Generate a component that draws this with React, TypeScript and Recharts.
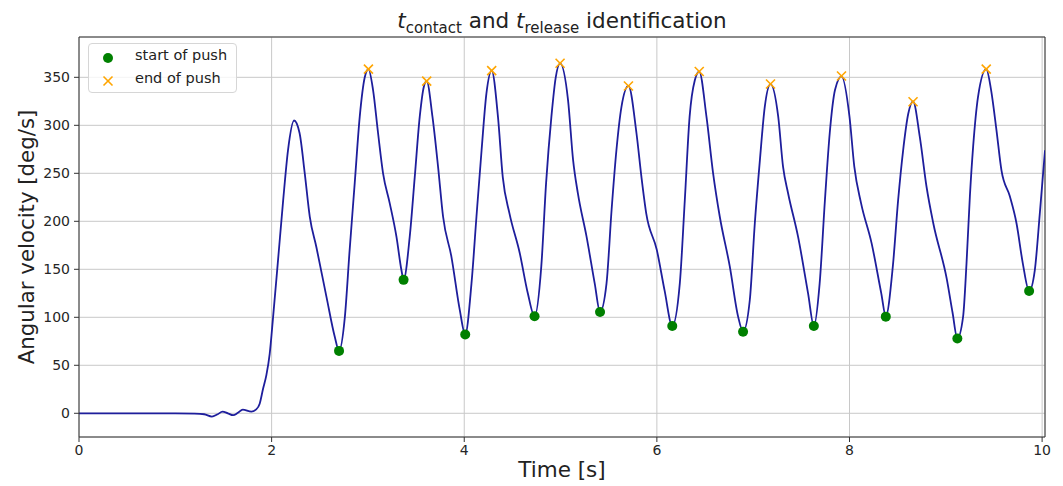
import React from 'react';
import {
  ComposedChart,
  Line,
  Scatter,
  XAxis,
  YAxis,
  CartesianGrid,
  ReferenceLine,
  Label,
} from 'recharts';

// angular velocity trace [t (s), deg/s]
const traceT = [
  0, 0.5, 1.0, 1.2, 1.3, 1.38, 1.44, 1.49, 1.545, 1.6, 1.65, 1.7, 1.79, 1.84, 1.876, 1.91, 1.946, 1.98,
  2.015, 2.067, 2.12, 2.17, 2.233, 2.29, 2.344, 2.396, 2.465, 2.57, 2.655, 2.7, 2.76, 2.81, 2.863, 2.915,
  2.967, 3.005, 3.053, 3.105, 3.157, 3.226, 3.296, 3.348, 3.37, 3.434, 3.486, 3.538, 3.58, 3.61, 3.67,
  3.728, 3.78, 3.867, 3.953, 4.01, 4.075, 4.127, 4.18, 4.23, 4.285, 4.35, 4.4, 4.47, 4.576, 4.66, 4.73,
  4.8, 4.85, 4.905, 4.95, 4.995, 5.078, 5.13, 5.18, 5.27, 5.355, 5.41, 5.477, 5.53, 5.58, 5.632, 5.705,
  5.788, 5.84, 5.89, 6.0, 6.08, 6.16, 6.238, 6.29, 6.34, 6.394, 6.44, 6.515, 6.584, 6.653, 6.757, 6.843,
  6.895, 6.965, 7.017, 7.07, 7.12, 7.18, 7.26, 7.31, 7.363, 7.466, 7.57, 7.63, 7.69, 7.745, 7.795, 7.85,
  7.917, 8.0, 8.05, 8.12, 8.23, 8.33, 8.377, 8.45, 8.505, 8.557, 8.61, 8.66, 8.73, 8.8, 8.87, 9.01, 9.07,
  9.12, 9.18, 9.215, 9.25, 9.284, 9.335, 9.42, 9.47, 9.526, 9.578, 9.665, 9.734, 9.8, 9.865, 9.924, 9.976,
  10.03,
];
const traceV = [
  0, 0, 0, -0.3, -1, -3.5, -1, 1.7, 0, -2, 0.5, 3.8, 1.7, 4, 10, 25, 40, 62,
  100, 160, 222, 274, 305, 292, 250, 205, 173, 121, 80, 65, 100, 170, 240, 309,
  350, 358.6, 337, 292, 250, 219, 184, 149, 139, 184, 246, 309, 340, 346, 309,
  257, 205, 163, 108, 82, 135, 205, 274, 333, 357, 309, 246, 208, 167, 125, 101,
  153, 240, 309, 350, 364.6, 326, 264, 229, 184, 135, 105.5, 135, 212, 274, 319, 341,
  292, 246, 208, 170, 128, 91, 135, 222, 309, 347, 356, 309, 250, 205, 153, 101,
  85, 118, 198, 264, 319, 343, 309, 257, 229, 184, 125, 91, 135, 222, 292, 337,
  351, 309, 257, 219, 177, 125, 101, 153, 222, 274, 312, 325, 288, 236, 198, 140, 105,
  78, 101, 156, 226, 278, 330, 358.6, 337, 295, 253, 226, 198, 156, 127.4, 149, 208,
  274,
];

// start of push (green dots)
const startT = [2.7, 3.37, 4.01, 4.73, 5.41, 6.16, 6.895, 7.63, 8.377, 9.12, 9.865];
const startV = [65, 139, 82, 101, 105.5, 91, 85, 91, 100.7, 78, 127.4];

// end of push (orange crosses)
const endT = [3.005, 3.61, 4.285, 4.995, 5.705, 6.44, 7.18, 7.917, 8.66, 9.42];
const endV = [358.6, 346, 357, 364.6, 341, 356, 343, 351.4, 324.6, 358.6];

const xTicks = [0, 2, 4, 6, 8, 10];
const yTicks = [0, 50, 100, 150, 200, 250, 300, 350];

const trace = traceT.map((t, i) => ({ t, v: traceV[i] }));
const starts = startT.map((t, i) => ({ t, v: startV[i] }));
const ends = endT.map((t, i) => ({ t, v: endV[i] }));

const FONT = '"DejaVu Sans", sans-serif';
const X_MAX = 10.03;
const Y_MIN = -24.7;
const Y_MAX = 392;

const Dot = (props: any) => <circle cx={props.cx} cy={props.cy} r={5} fill="#008000" />;

const Cross = (props: any) => {
  const { cx, cy } = props;
  const s = 4.5;
  return (
    <g stroke="#ffa500" strokeWidth={1.6}>
      <line x1={cx - s} y1={cy - s} x2={cx + s} y2={cy + s} />
      <line x1={cx - s} y1={cy + s} x2={cx + s} y2={cy - s} />
    </g>
  );
};

function ChartLegend() {
  return (
    <div
      style={{
        position: 'absolute',
        left: 88,
        top: 43,
        width: 149,
        height: 50,
        border: '1px solid #d6d6d6',
        borderRadius: 4,
        background: 'rgba(255,255,255,0.8)',
        fontFamily: FONT,
        fontSize: 14.5,
        color: '#222',
        boxSizing: 'border-box',
      }}
    >
      <svg width={30} height={47} style={{ position: 'absolute', left: 4, top: 0 }}>
        <circle cx={15} cy={14} r={5} fill="#008000" />
        <g stroke="#ffa500" strokeWidth={1.6}>
          <line x1={10.5} y1={32.5} x2={19.5} y2={41.5} />
          <line x1={10.5} y1={41.5} x2={19.5} y2={32.5} />
        </g>
      </svg>
      <div style={{ position: 'absolute', left: 46, top: 3, whiteSpace: 'nowrap' }}>start of push</div>
      <div style={{ position: 'absolute', left: 46, top: 26, whiteSpace: 'nowrap' }}>end of push</div>
    </div>
  );
}

export default function App() {
  return (
    <div style={{ position: 'absolute', left: 0, top: 0, width: 1063, height: 486, background: '#fff' }}>
      <div
        style={{
          position: 'absolute',
          left: 79,
          width: 966,
          top: 8,
          textAlign: 'center',
          fontFamily: FONT,
          fontSize: 21.5,
          lineHeight: '26px',
          color: '#222',
          whiteSpace: 'nowrap',
        }}
      >
        <span style={{ fontStyle: 'italic' }}>t</span>
        <sub style={{ fontSize: 15, lineHeight: 0 }}>contact</sub>
        {' and '}
        <span style={{ fontStyle: 'italic' }}>t</span>
        <sub style={{ fontSize: 15, lineHeight: 0 }}>release</sub>
        {' identification'}
      </div>
      <ComposedChart
        width={1063}
        height={486}
        margin={{ top: 37, right: 18, bottom: 0, left: 0 }}
      >
        <CartesianGrid stroke="#c8c8c8" strokeWidth={1} />
        <XAxis
          type="number"
          dataKey="t"
          domain={[0, X_MAX]}
          ticks={xTicks}
          allowDataOverflow
          height={49}
          tickSize={5}
          tickMargin={3}
          stroke="#333"
          tick={{ fill: '#262626', fontSize: 14, fontFamily: FONT }}
        >
          <Label
            content={() => (
              <text x={562} y={477} textAnchor="middle" fontFamily={FONT} fontSize={21.5} fill="#222">
                Time [s]
              </text>
            )}
          />
        </XAxis>
        <YAxis
          type="number"
          dataKey="v"
          domain={[Y_MIN, Y_MAX]}
          ticks={yTicks}
          allowDataOverflow
          width={79}
          tickSize={5}
          tickMargin={4}
          stroke="#333"
          tick={{ fill: '#262626', fontSize: 14, fontFamily: FONT }}
        >
          <Label
            content={() => (
              <text
                transform="translate(34,237) rotate(-90)"
                textAnchor="middle"
                fontFamily={FONT}
                fontSize={21.3}
                fill="#222"
              >
                Angular velocity [deg/s]
              </text>
            )}
          />
        </YAxis>
        <ReferenceLine x={X_MAX} stroke="#333" strokeWidth={1} ifOverflow="visible" />
        <ReferenceLine y={Y_MAX} stroke="#333" strokeWidth={1} ifOverflow="visible" />
        <Line
          data={trace}
          dataKey="v"
          type="monotone"
          stroke="#1e1e9c"
          strokeWidth={1.8}
          dot={false}
          activeDot={false}
          isAnimationActive={false}
        />
        <Scatter data={starts} dataKey="v" shape={Dot} isAnimationActive={false} />
        <Scatter data={ends} dataKey="v" shape={Cross} isAnimationActive={false} />
      </ComposedChart>
      <ChartLegend />
    </div>
  );
}
